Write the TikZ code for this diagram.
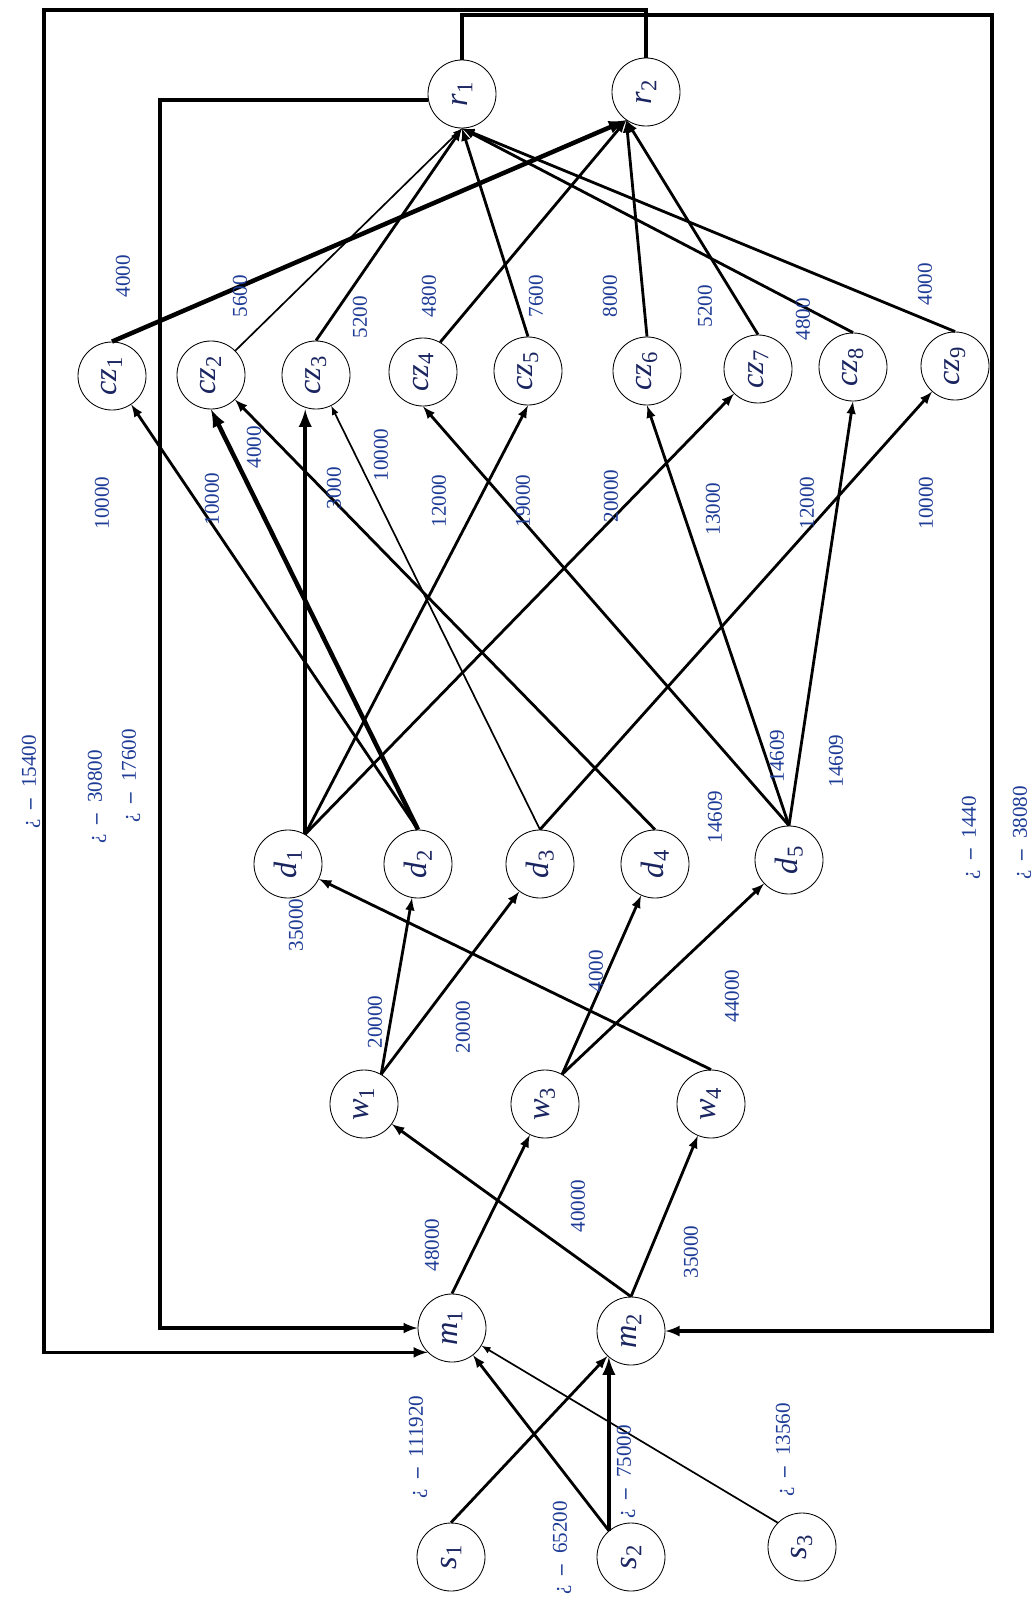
\documentclass[tikz,border=0pt]{standalone}
\usepackage{fontspec}
\setmainfont{Liberation Serif}
\usepackage{graphicx}
\usetikzlibrary{arrows}
\definecolor{qtyblue}{HTML}{1E3C96}
\definecolor{sitenavy}{HTML}{1A2560}
\tikzset{>=latex}
\newcommand{\nd}[2]{\rotatebox{90}{\textit{#1}\textsubscript{#2}}}
\newcommand{\ret}[1]{¿\enspace\textbf{--}\enspace #1}

\begin{document}
\begin{tikzpicture}[x = 0.025cm, y = -0.025cm,
  site/.style = {draw, circle, line width = 0.6pt, minimum size = 1.7cm, inner sep = 0pt, text = sitenavy, font = \fontsize{23}{25}\selectfont},
  qty/.style = {rotate = 90, inner sep = 0pt, text = qtyblue, font = \fontsize{15}{17}\selectfont},
  flow/.style = {->, line width = 2pt},
  heavy/.style = {->, line width = 3.2pt},
  light/.style = {->, line width = 1.2pt},
  loop/.style = {->, line width = 2.4pt}]

\useasboundingbox (0,0) rectangle (1031,1602);

% sites, bottom row to top row
\node[site] (s1) at (451, 1557) {\nd{s}{1}};
\node[site] (s2) at (631, 1557) {\nd{s}{2}};
\node[site] (s3) at (802, 1547) {\nd{s}{3}};

\node[site] (m1) at (452, 1328) {\nd{m}{1}};
\node[site] (m2) at (631, 1331) {\nd{m}{2}};

\node[site] (w1) at (364, 1104) {\nd{w}{1}};
\node[site] (w3) at (545, 1104) {\nd{w}{3}};
\node[site] (w4) at (711, 1104) {\nd{w}{4}};

\node[site] (d1) at (288, 864) {\nd{d}{1}};
\node[site] (d2) at (418, 864) {\nd{d}{2}};
\node[site] (d3) at (540, 864) {\nd{d}{3}};
\node[site] (d4) at (655, 864) {\nd{d}{4}};
\node[site] (d5) at (789, 860) {\nd{d}{5}};

\node[site] (cz1) at (112, 376) {\nd{cz}{1}};
\node[site] (cz2) at (211, 375) {\nd{cz}{2}};
\node[site] (cz3) at (316, 375) {\nd{cz}{3}};
\node[site] (cz4) at (423, 372) {\nd{cz}{4}};
\node[site] (cz5) at (528, 371) {\nd{cz}{5}};
\node[site] (cz6) at (647, 371) {\nd{cz}{6}};
\node[site] (cz7) at (758, 369) {\nd{cz}{7}};
\node[site] (cz8) at (853, 367) {\nd{cz}{8}};
\node[site] (cz9) at (955, 366) {\nd{cz}{9}};

\node[site] (r1) at (462, 94) {\nd{r}{1}};
\node[site] (r2) at (646, 92) {\nd{r}{2}};

% return loops
\coordinate (outl) at (44, 10);
\coordinate (inl) at (160, 0);
\coordinate (rgt) at (992, 15);

\draw[loop] (r2.north) -- (r2.north |- outl) -- (outl) -- (outl |- m1.225) -- (m1.225);
\draw[loop] (r1.190) -- (r1.190 -| inl) -- (inl |- m1.west) -- (m1.west);
\draw[loop] (r1.north) -- (r1.north |- rgt) -- (rgt) -- (rgt |- m2.east) -- (m2.east);

\node[qty] (ret1) at (31, 782) {\ret{15400}};
\node[qty] (ret2) at (97, 797) {\ret{30800}};
\node[qty] (ret3) at (131, 776) {\ret{17600}};
\node[qty] (ret4) at (971, 838) {\ret{1440}};
\node[qty] (ret5) at (1022, 833) {\ret{38080}};

% supply
\draw[flow] (s1.north) -- (m2);
\draw[flow] (s2.130) -- (m1);
\draw[heavy] (s2.130) -- (m2.230);
\draw[light] (s3.135) -- (m1);

\node[qty] (sup1) at (418, 1447) {\ret{111920}};
\node[qty] (sup2) at (562, 1548) {\ret{65200}};
\node[qty] (sup3) at (626, 1472) {\ret{75000}};
\node[qty] (sup4) at (785, 1450) {\ret{13560}};

% plants to warehouses
\draw[flow] (m1.north) -- (w3);
\draw[flow] (m2.north) -- (w1);
\draw[flow] (m2.north) -- (w4);

\node[qty] (mw1) at (432, 1245) {48000};
\node[qty] (mw2) at (578, 1206) {40000};
\node[qty] (mw3) at (691, 1252) {35000};

% warehouses to distributors
\draw[flow] (w1.60) -- (d2);
\draw[flow] (w1.60) -- (d3);
\draw[flow] (w3.60) -- (d4);
\draw[flow] (w3.60) -- (d5);
\draw[flow] (w4.north) -- (d1);

\node[qty] (wd1) at (375, 1022) {20000};
\node[qty] (wd2) at (463, 1027) {20000};
\node[qty] (wd3) at (596, 971) {4000};
\node[qty] (wd4) at (732, 996) {44000};
\node[qty] (wd5) at (296, 925) {35000};

% distributors to customer zones
\draw[heavy] (d1.60) -- (d1.60 |- cz3.south);
\draw[flow] (d1.60) -- (cz5.south);
\draw[flow] (d1.60) -- (cz7);
\draw[flow] (d2.north) -- (cz1);
\draw[heavy] (d2.north) -- (cz2.south);
\draw[light] (d3.north) -- (cz3);
\draw[flow] (d3.north) -- (cz9);
\draw[flow] (d4.north) -- (cz2);
\draw[flow] (d5.north) -- (cz4.south);
\draw[flow] (d5.north) -- (cz6.south);
\draw[flow] (d5.north) -- (cz8.south);

\node[qty] (dc1) at (102, 503) {10000};
\node[qty] (dc2) at (212, 499) {10000};
\node[qty] (dc3) at (254, 447) {4000};
\node[qty] (dc4) at (334, 488) {3000};
\node[qty] (dc5) at (381, 455) {10000};
\node[qty] (dc6) at (439, 501) {12000};
\node[qty] (dc7) at (523, 501) {19000};
\node[qty] (dc8) at (611, 496) {20000};
\node[qty] (dc9) at (713, 509) {13000};
\node[qty] (dc10) at (807, 503) {12000};
\node[qty] (dc11) at (926, 503) {10000};

\node[qty] (dd1) at (715, 817) {14609};
\node[qty] (dd2) at (777, 756) {14609};
\node[qty] (dd3) at (836, 761) {14609};

% customer zones to recovery
\draw[heavy] (cz1.north) -- (r2.235);
\draw[light] (cz2.45) -- (r1.south);
\draw[flow] (cz3.north) -- (r1.south);
\draw[flow] (cz4.60) -- (r2.235);
\draw[flow] (cz5.north) -- (r1.south);
\draw[flow] (cz6.north) -- (r2.235);
\draw[flow] (cz7.north) -- (r2.235);
\draw[flow] (cz8.north) -- (r1.south);
\draw[flow] (cz9.north) -- (r1.south);

\node[qty] (cr1) at (123, 276) {4000};
\node[qty] (cr2) at (240, 296) {5600};
\node[qty] (cr3) at (360, 317) {5200};
\node[qty] (cr4) at (429, 296) {4800};
\node[qty] (cr5) at (536, 296) {7600};
\node[qty] (cr6) at (610, 296) {8000};
\node[qty] (cr7) at (705, 306) {5200};
\node[qty] (cr8) at (803, 319) {4800};
\node[qty] (cr9) at (925, 284) {4000};

\end{tikzpicture}
\end{document}
